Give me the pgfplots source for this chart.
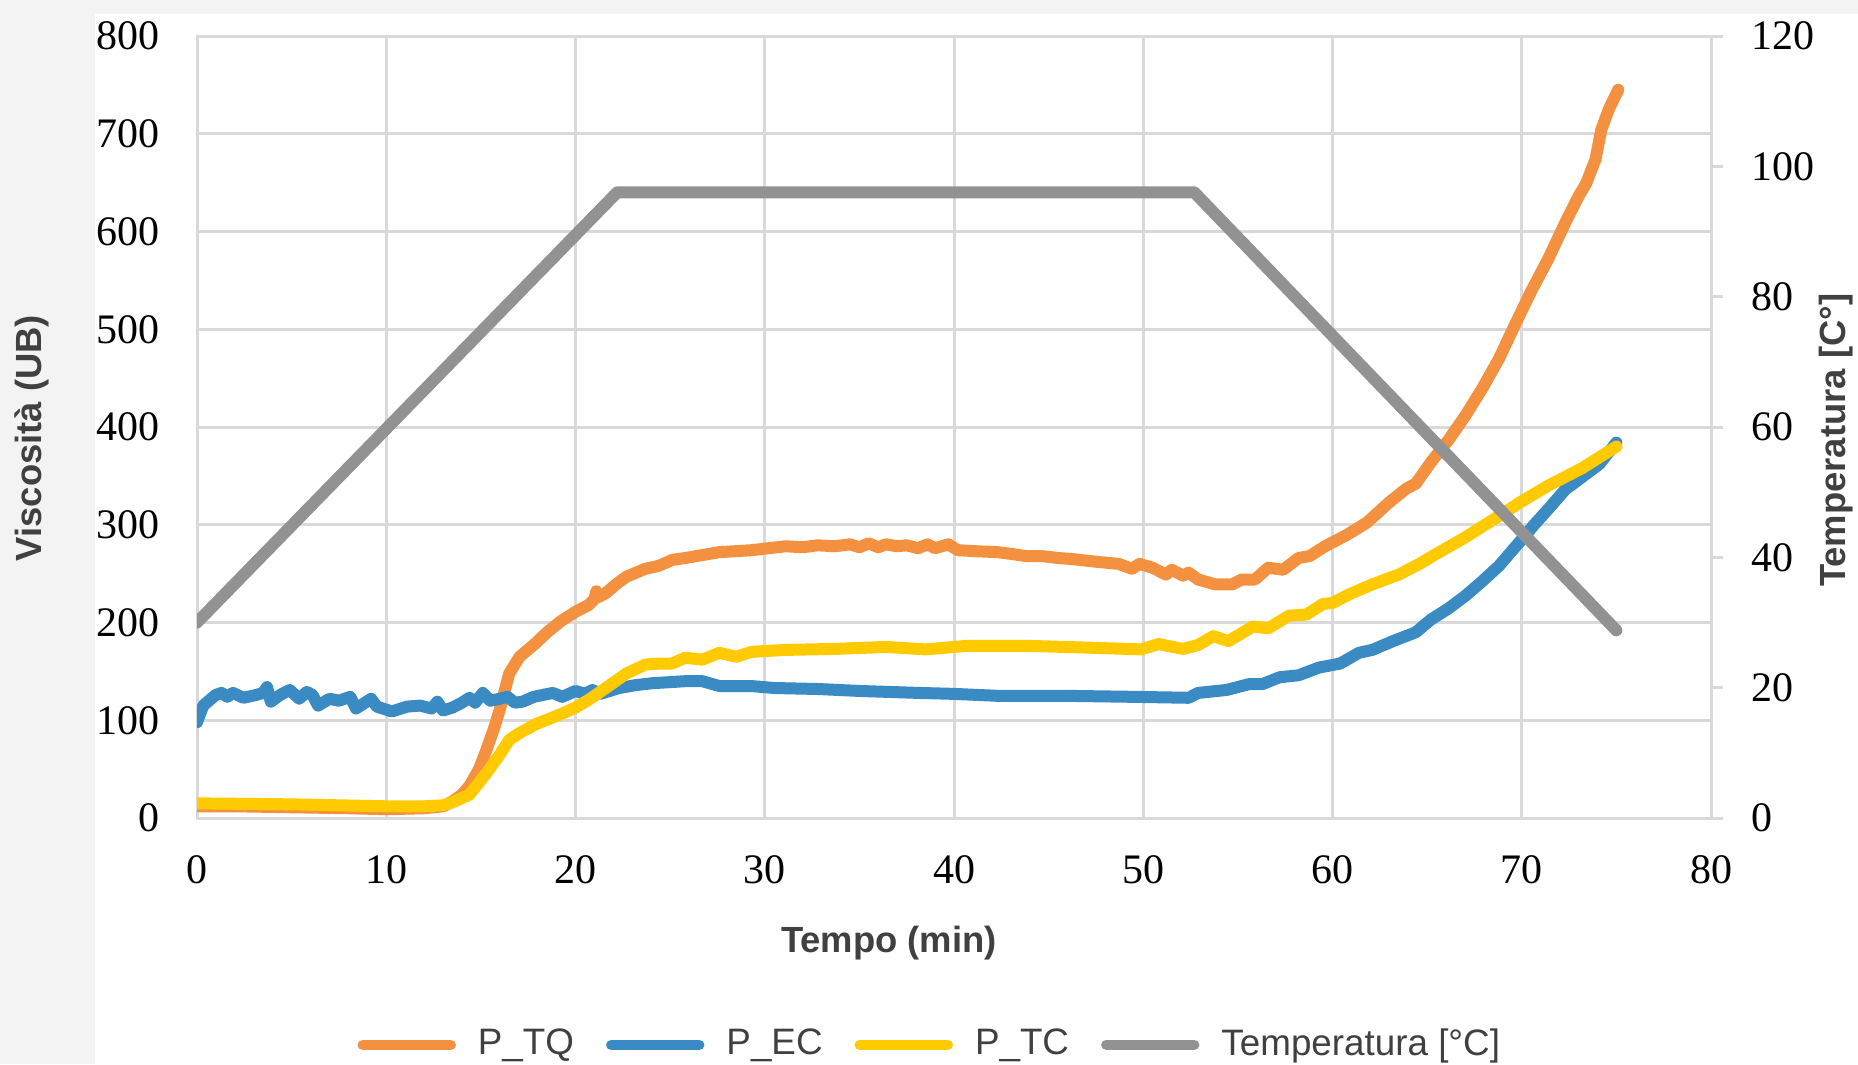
\documentclass[border=0pt]{standalone}
\usepackage{fontspec}
\setmainfont{Liberation Serif}
\newfontfamily\arial{Liberation Sans}
\usepackage{pgfplots}
\pgfplotsset{compat=1.18}

\definecolor{cTQ}{HTML}{F39140}
\definecolor{cEC}{HTML}{3A8AC4}
\definecolor{cTC}{HTML}{FFCB00}
\definecolor{cT}{HTML}{929292}
\definecolor{gridc}{HTML}{D9D9D9}
\definecolor{txt}{HTML}{404040}
\definecolor{bg}{HTML}{F3F3F3}

\pgfplotsset{
  serie/.style={line width=3pt, line join=round, line cap=round, no markers},
}

\begin{document}
\begin{tikzpicture}
\useasboundingbox (-49.25pt,-61.5pt) rectangle (415.25pt,204.5pt);
\fill[bg] (-49.25pt,-61.5pt) rectangle (415.25pt,204.5pt);
\fill[white] (-25.5pt,-61.5pt) rectangle (415.25pt,201pt);

\begin{axis}[
  scale only axis, width=378.5pt, height=195.5pt,
  xmin=0, xmax=80, ymin=0, ymax=800,
  xtick={0,10,...,80}, ytick={0,100,...,800},
  xmajorgrids, ymajorgrids,
  grid style={gridc, line width=0.75pt},
  axis line style={gridc, line width=0.75pt},
  major tick length=0pt,
  /pgf/number format/assume math mode=true,
  tick label style={font=\fontsize{10.5}{12}\selectfont, black},
  xticklabel style={yshift=-5.75pt},
  yticklabel style={xshift=-5.75pt},
  xlabel={Tempo (min)},
  ylabel={Viscosità (UB)},
  xlabel style={at={(axis description cs:0.457,-0.16)}, anchor=center,
    font=\arial\bfseries\fontsize{9.1}{11}\selectfont, text=txt},
  every axis y label/.style={at={(axis description cs:-0.109,0.486)}, anchor=center, rotate=90,
    font=\arial\bfseries\fontsize{9.1}{11}\selectfont, text=txt},
]
% P_TQ
\addplot[serie, cTQ] coordinates {
(0,12) (2,12) (5,11) (8,10) (10,9) (12,10) (13,12) (13.5,17) (14,24) (14.4,33)
(14.9,50) (15.3,70) (15.7,92) (16.0,111) (16.5,148) (17.05,165) (17.9,179) (18.5,190)
(19.2,201) (20.0,211) (20.7,218) (21.0,224) (21.1,232) (21.2,226) (21.6,230) (22.2,240)
(22.7,247) (23.7,255) (24.4,258) (25.1,264) (25.8,266) (26.7,269) (27.6,272) (28.5,273)
(29.3,274) (30.2,276) (31.1,278) (32,277) (32.8,279) (33.7,278) (34.5,280) (35,277)
(35.5,281) (36,277) (36.4,280) (37,278) (37.5,279) (38.1,276) (38.6,280) (39.0,276)
(39.7,280) (40.2,274) (41.1,273) (42.3,272) (43.1,270) (43.8,268) (44.6,268) (45.5,266)
(46.2,265) (47.6,262) (48.7,260) (49.4,255) (49.8,260) (50.5,256) (51.2,249) (51.5,254)
(52.1,248) (52.4,251) (52.9,244) (53.8,239) (54.7,239) (55.2,244) (55.9,244) (56.6,256)
(57.4,254) (58.2,266) (58.8,268) (59.6,278) (60.7,289) (61.8,302) (63.0,323) (63.9,337)
(64.4,342) (65.2,364) (66.1,386) (67.0,411) (67.9,439) (68.8,470) (69.6,503) (70.5,539)
(71.4,572) (72.3,609) (73.0,636) (73.4,649) (73.9,674) (74.2,704) (74.6,725) (75.1,745)
};
% P_EC
\addplot[serie, cEC] coordinates {
(0,98) (0.33,115) (0.69,121) (1.0,126) (1.3,128) (1.6,124) (1.9,128) (2.45,123)
(3.15,126) (3.5,128) (3.7,134) (3.9,119) (4.4,126) (4.9,131) (5.4,122) (5.8,129)
(6.1,126) (6.4,115) (7.0,122) (7.5,120) (8.1,124) (8.4,112) (8.8,117) (9.2,122)
(9.5,114) (10.3,109) (11.1,114) (11.8,115) (12.4,112) (12.7,119) (13.0,110) (13.5,113)
(14.0,118) (14.4,123) (14.7,118) (15.1,128) (15.5,120) (16.0,122) (16.4,124) (16.8,118)
(17.2,119) (17.8,124) (18.3,126) (18.8,128) (19.3,124) (20,130) (20.5,127) (20.9,131)
(21.3,127) (22.3,133) (23.2,136) (24.1,138) (25,139) (25.8,140) (26.7,140) (27.6,135)
(29.3,135) (30.5,133) (32.8,132) (35,130) (38.1,128) (40,127) (42.3,125) (45.9,125)
(49.4,124) (52.4,123) (52.9,128) (54.4,131) (55.6,137) (56.3,137) (57.2,144) (58.2,146)
(59.3,154) (60.4,158) (61.4,169) (62.1,172) (63.2,181) (64.4,190) (65.2,203) (66.1,214)
(67.0,227) (67.9,242) (68.8,258) (70,285) (70.7,301) (71.4,316) (72.3,336) (73.2,349)
(74.1,362) (75.0,384)
};
% P_TC
\addplot[serie, cTC] coordinates {
(0,15) (5,14) (10,12) (12,12) (13,13) (13.5,16) (14.4,24) (15.3,46) (16.0,65)
(16.5,80) (17.05,87) (17.9,96) (19.2,106) (20.0,113) (20.7,121) (21.6,133) (22.7,148)
(23.7,157) (24.4,158) (25.1,158) (25.8,164) (26.7,162) (27.6,169) (28.5,165) (29.3,170)
(31.1,172) (33.7,173) (36.4,175) (38.5,172.5) (40.6,176) (44.1,176) (47.6,174)
(49.9,172.5) (50.8,178) (52.1,173) (52.9,177) (53.7,186) (54.5,181) (55.8,196)
(56.6,194) (57.7,207) (58.6,208) (59.5,219) (60.0,220) (60.9,229) (62.1,239) (63.5,249)
(64.6,260) (65.2,267) (67.0,287) (68.8,309) (70,324) (71.4,340) (73.2,358) (75.0,380)
};
\end{axis}

\begin{axis}[
  scale only axis, width=378.5pt, height=195.5pt,
  xmin=0, xmax=80, ymin=0, ymax=120,
  axis x line=none, axis y line*=right,
  ytick={0,20,...,120},
  axis line style={gridc, line width=0.75pt},
  ytick style={gridc, line width=0.75pt},
  tick align=outside, major tick length=3pt,
  /pgf/number format/assume math mode=true,
  tick label style={font=\fontsize{10.5}{12}\selectfont, black},
  yticklabel style={xshift=3.5pt},
  ylabel={Temperatura [C°]},
  every axis y label/.style={at={(axis description cs:1.0826,0.483)}, anchor=center, rotate=90,
    font=\arial\bfseries\fontsize{9.1}{11}\selectfont, text=txt},
  legend columns=4,
  legend image code/.code={\draw[#1, line width=2.6pt, line cap=round] (0pt,0pt) -- (22pt,0pt);},
  legend style={draw=none, fill=none, at={(0.486,-0.29)}, anchor=center,
    font=\arial\fontsize{9.2}{11}\selectfont, text=txt,
    /tikz/every odd column/.append style={column sep=3.5pt},
    /tikz/every even column/.append style={column sep=6pt}},
]
\addlegendimage{serie, cTQ}\addlegendentry{P\_TQ}
\addlegendimage{serie, cEC}\addlegendentry{P\_EC}
\addlegendimage{serie, cTC}\addlegendentry{P\_TC}
\addplot[serie, cT] coordinates {(0,30) (22.2,96) (52.7,96) (75.0,28.8)};
\addlegendentry{Temperatura [°C]}
\end{axis}
\end{tikzpicture}
\end{document}
